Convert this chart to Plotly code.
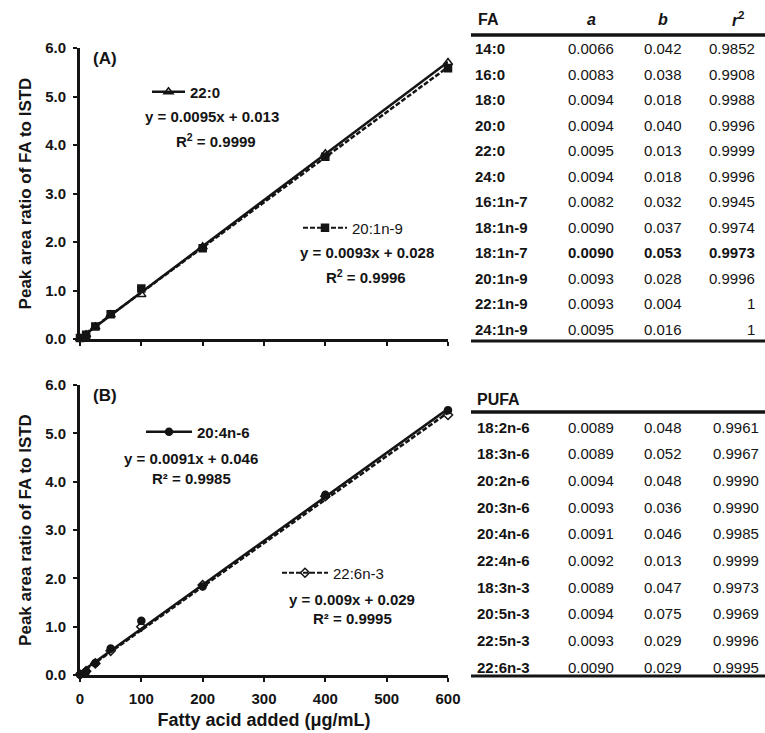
import plotly.graph_objects as go

# ---------------- data ----------------
conc = [0, 10, 25, 50, 100, 200, 400, 600]

# Panel A
a_22_0 = [0.01, 0.09, 0.25, 0.50, 0.92, 1.90, 3.82, 5.70]
a_20_1n9 = [0.02, 0.09, 0.26, 0.51, 1.04, 1.87, 3.76, 5.58]
# Panel B
b_20_4n6 = [0.01, 0.07, 0.25, 0.55, 1.12, 1.83, 3.73, 5.48]
b_22_6n3 = [0.01, 0.08, 0.24, 0.50, 1.00, 1.86, 3.70, 5.38]

# Table 1 (FA)
fa_names = ["14:0", "16:0", "18:0", "20:0", "22:0", "24:0", "16:1n-7", "18:1n-9",
            "18:1n-7", "20:1n-9", "22:1n-9", "24:1n-9"]
fa_a = ["0.0066", "0.0083", "0.0094", "0.0094", "0.0095", "0.0094", "0.0082", "0.0090",
        "0.0090", "0.0093", "0.0093", "0.0095"]
fa_b = ["0.042", "0.038", "0.018", "0.040", "0.013", "0.018", "0.032", "0.037",
        "0.053", "0.028", "0.004", "0.016"]
fa_r2 = ["0.9852", "0.9908", "0.9988", "0.9996", "0.9999", "0.9996", "0.9945", "0.9974",
         "0.9973", "0.9996", "1", "1"]
fa_bold_row = "18:1n-7"

# Table 2 (PUFA)
pufa_names = ["18:2n-6", "18:3n-6", "20:2n-6", "20:3n-6", "20:4n-6", "22:4n-6",
              "18:3n-3", "20:5n-3", "22:5n-3", "22:6n-3"]
pufa_a = ["0.0089", "0.0089", "0.0094", "0.0093", "0.0091", "0.0092", "0.0089",
          "0.0094", "0.0093", "0.0090"]
pufa_b = ["0.048", "0.052", "0.048", "0.036", "0.046", "0.013", "0.047", "0.075",
          "0.029", "0.029"]
pufa_r2 = ["0.9961", "0.9967", "0.9990", "0.9990", "0.9985", "0.9999", "0.9973",
           "0.9969", "0.9996", "0.9995"]

# fit equations shown in panels
eq_22_0 = ("y = 0.0095x + 0.013", "R<sup>2</sup> = 0.9999")
eq_20_1n9 = ("y = 0.0093x + 0.028", "R<sup>2</sup> = 0.9996")
eq_20_4n6 = ("y = 0.0091x + 0.046", "R² = 0.9985")
eq_22_6n3 = ("y = 0.009x + 0.029", "R² = 0.9995")

# ---------------- layout helpers ----------------
W, H = 765, 733
FONT = "Liberation Sans, Arial, Helvetica, sans-serif"
INK = "#141414"


def px(x):
    return x / W


def py(y):
    return 1 - y / H


fig = go.Figure()


def fit_line(xs, a, b):
    return [a * x + b for x in xs]


def add_series(xaxis, yaxis, ys, a, b, name, symbol, dash, msize, legend):
    # measured points
    fig.add_trace(go.Scatter(x=conc, y=ys, mode="markers", xaxis=xaxis, yaxis=yaxis,
                             marker=dict(symbol=symbol, size=msize, color=INK,
                                         line=dict(color=INK, width=1.5)),
                             showlegend=False, cliponaxis=False))
    # fitted line from table coefficients
    xs = [conc[0], conc[-1]]
    fig.add_trace(go.Scatter(x=xs, y=fit_line(xs, a, b), mode="lines", xaxis=xaxis,
                             yaxis=yaxis, line=dict(color=INK, width=2.5, dash=dash),
                             showlegend=False, cliponaxis=False))
    # legend sample
    fig.add_trace(go.Scatter(x=[None], y=[None], mode="lines+markers", xaxis=xaxis,
                             yaxis=yaxis, name=name, legend=legend,
                             marker=dict(symbol=symbol, size=msize, color=INK,
                                         line=dict(color=INK, width=1.5)),
                             line=dict(color=INK, width=2.5 if dash == "solid" else 2, dash=dash)))


i22 = fa_names.index("22:0")
i201 = fa_names.index("20:1n-9")
i204 = pufa_names.index("20:4n-6")
i226 = pufa_names.index("22:6n-3")

DASH = "5px,2px"
add_series("x", "y", a_22_0, float(fa_a[i22]), float(fa_b[i22]), "<b>22:0</b>",
           "triangle-up-open", "solid", 8, "legend")
add_series("x", "y", a_20_1n9, float(fa_a[i201]), float(fa_b[i201]), "20:1n-9",
           "square", DASH, 7, "legend2")
add_series("x2", "y2", b_20_4n6, float(pufa_a[i204]), float(pufa_b[i204]), "<b>20:4n-6</b>",
           "circle", "solid", 7, "legend3")
add_series("x2", "y2", b_22_6n3, float(pufa_a[i226]), float(pufa_b[i226]), "22:6n-3",
           "diamond-open", DASH, 7, "legend4")

xdom = [px(80), px(448)]
axis_common = dict(showgrid=False, zeroline=False, showline=True, linecolor=INK,
                   linewidth=3, ticks="outside", tickcolor=INK, ticklen=4, tickwidth=1.5,
                   automargin=False,
                   tickfont=dict(family=FONT, size=15, color=INK, weight="bold"))

ytitle = dict(text="<b>Peak area ratio of FA to ISTD</b>", standoff=10,
              font=dict(family=FONT, size=17, color=INK))

fig.update_layout(
    width=W, height=H, margin=dict(l=0, r=0, t=0, b=0, autoexpand=False),
    paper_bgcolor="white", plot_bgcolor="white",
    font=dict(family=FONT, color=INK),
    xaxis=dict(domain=xdom, range=[0, 600], dtick=100, showticklabels=False,
               anchor="y", **axis_common),
    yaxis=dict(domain=[py(339), py(48)], range=[0, 6], dtick=1, tickformat=".1f",
               anchor="x", ticklabelstandoff=4, title=ytitle, **axis_common),
    xaxis2=dict(domain=xdom, range=[0, 600], dtick=100, anchor="y2",
                ticklabelstandoff=4,
                title=dict(text="<b>Fatty acid added (\u03bcg/mL)</b>", standoff=8,
                           font=dict(family=FONT, size=18, color=INK)),
                **axis_common),
    yaxis2=dict(domain=[py(675), py(385)], range=[0, 6], dtick=1, tickformat=".1f",
                anchor="x2", ticklabelstandoff=4, title=ytitle, **axis_common),
)

leg_common = dict(xanchor="left", yanchor="middle", bgcolor="rgba(0,0,0,0)",
                  borderwidth=0)
LF = dict(family=FONT, size=15, color=INK)
fig.update_layout(
    legend=dict(x=px(147), y=py(92), font=LF, itemwidth=33, **leg_common),
    legend2=dict(x=px(298), y=py(228), font=LF, itemwidth=44, **leg_common),
    legend3=dict(x=px(141), y=py(432), font=LF, itemwidth=46, **leg_common),
    legend4=dict(x=px(277), y=py(573), font=LF, itemwidth=46, **leg_common),
)

annotations = []


def ann(text, x, y, size=14, xanchor="center", bold=False):
    annotations.append(dict(text=f"<b>{text}</b>" if bold else text, x=px(x), y=py(y),
                            xref="paper", yref="paper", xanchor=xanchor, yanchor="middle",
                            showarrow=False, font=dict(family=FONT, size=size, color=INK)))


# panel labels
ann("(A)", 91, 58, 17, "left", True)
ann("(B)", 91, 395, 17, "left", True)
# equations
ES = 15
ann(eq_22_0[0], 212, 117, ES, bold=True)
ann(eq_22_0[1], 216, 140, ES, bold=True)
ann(eq_20_1n9[0], 367, 252, ES, bold=True)
ann(eq_20_1n9[1], 366, 277, ES, bold=True)
ann(eq_20_4n6[0], 191, 458, ES, bold=True)
ann(eq_20_4n6[1], 191, 478, ES, bold=True)
ann(eq_22_6n3[0], 352, 599, ES, bold=True)
ann(eq_22_6n3[1], 352, 618, ES, bold=True)

# tables
col_label_x = 473
col_a_x = 591
col_b_x = 663
col_r2_right = 757
TS = 15

ann("FA", 476, 20, 16, "left", True)
ann("<i>a</i>", col_a_x, 20, 16, bold=True)
ann("<i>b</i>", col_b_x, 20, 16, bold=True)
ann("<i>r</i><sup>2</sup>", 738, 19, 16, bold=True)

row0, dy1 = 48.5, 25.5
for i, name in enumerate(fa_names):
    y = row0 + i * dy1
    b = name == fa_bold_row
    ann(name, col_label_x, y, TS, "left", True)
    ann(fa_a[i], col_a_x, y, TS, bold=b)
    ann(fa_b[i], col_b_x, y, TS, bold=b)
    ann(fa_r2[i], col_r2_right, y, TS, "right", bold=b)

ann("PUFA", 475, 399, 16, "left", True)
row0b, dy2 = 427, 26.7
for i, name in enumerate(pufa_names):
    y = row0b + i * dy2
    ann(name, col_label_x + 2, y, TS, "left", True)
    ann(pufa_a[i], col_a_x, y, TS)
    ann(pufa_b[i], col_b_x, y, TS)
    ann(pufa_r2[i], col_r2_right + 4, y, TS, "right")

fig.update_layout(annotations=annotations)

shapes = []
for yy, w in [(35, 3.5), (341, 3), (412, 3.5), (676, 3)]:
    shapes.append(dict(type="line", xref="paper", yref="paper", x0=px(471), x1=px(765),
                       y0=py(yy), y1=py(yy), line=dict(color=INK, width=w)))
fig.update_layout(shapes=shapes)

fig.write_html("out.html", config={"displayModeBar": False},
               post_script="document.body.style.margin='0px';document.body.style.overflow='hidden';")
